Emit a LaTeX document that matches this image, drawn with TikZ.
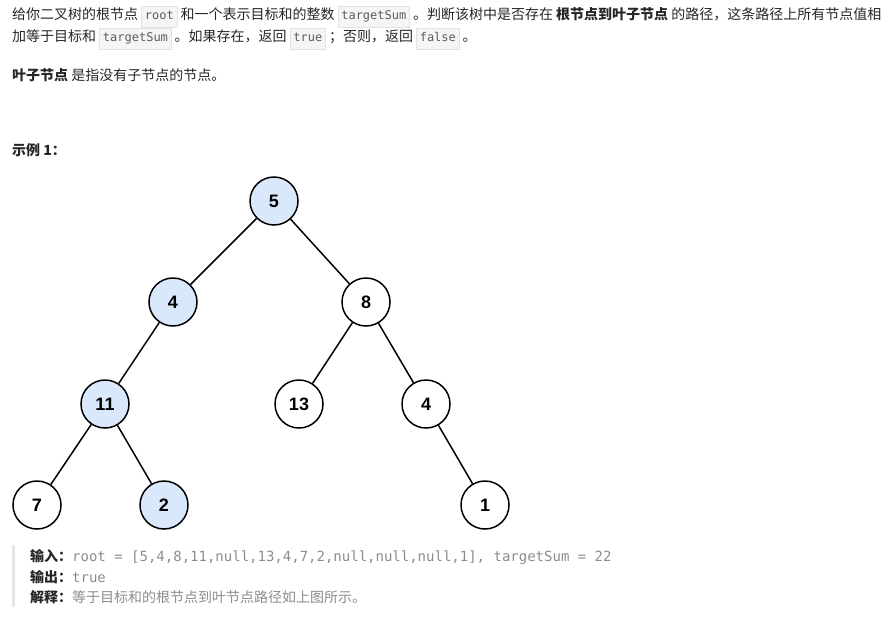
\documentclass[tikz,border=0pt]{standalone}
\usepackage{fontspec}
\setmainfont{Noto Sans CJK SC}
\setmonofont{DejaVu Sans Mono}
\newfontfamily\numfont{Liberation Sans}
\definecolor{txt}{HTML}{262626}
\definecolor{codetxt}{HTML}{5C5C5C}
\definecolor{codebg}{HTML}{F5F5F5}
\definecolor{codeline}{HTML}{E3E3E3}
\definecolor{pathblue}{HTML}{DAE8FC}
\definecolor{quotetxt}{HTML}{8C8C8C}
\definecolor{quotebar}{HTML}{E6E6E6}
\newcommand\code[1]{{\setlength\fboxsep{3pt}\setlength\fboxrule{0.6pt}\fcolorbox{codeline}{codebg}{\fontsize{12}{14}\selectfont\ttfamily\color{codetxt}\strut#1}}}
\tikzset{
  para/.style={anchor=west, inner sep=0pt, text=txt, font=\fontsize{14}{20}\selectfont},
  tnode/.style={circle, draw, line width=1.5pt, minimum size=48pt, inner sep=0pt, fill=white,
    font=\numfont\bfseries\fontsize{18}{20}\selectfont},
  onpath/.style={tnode, fill=pathblue},
  edge/.style={line width=1.5pt}
}
\begin{document}
\begin{tikzpicture}[x=1pt, y=-1pt]
	\useasboundingbox (0,0) rectangle (891,616);
	% problem statement
	\node[para] (line1) at (12,17) {给你二叉树的根节点 \code{root} 和一个表示目标和的整数 \code{targetSum} 。判断该树中是否存在 \textbf{根节点到叶子节点} 的路径，这条路径上所有节点值相};
	\node[para] (line2) at (12,39) {加等于目标和 \code{targetSum} 。如果存在，返回 \code{true} ；否则，返回 \code{false} 。};
	\node[para] (leaf) at (12,75) {\textbf{叶子节点} 是指没有子节点的节点。};
	\node[para] (ex) at (12,150) {\textbf{示例 1：}};

	% tree
	\foreach \name/\val/\x/\y/\sty in {root/5/274/201/onpath, l/4/173/302/onpath, r/8/366/302/tnode,
		ll/11/105/404/onpath, rl/13/299/404/tnode, rr/4/426/404/tnode,
		lll/7/37/505/tnode, llr/2/164/505/onpath, rrr/1/485/505/tnode}{
		\node[\sty] (\name) at (\x,\y) {\val};
	};
	\foreach \a/\b in {root/l, root/r, l/ll, ll/lll, ll/llr, r/rl, r/rr, rr/rrr}{
		\draw[edge] (\a) -- (\b);
	};

	% example output
	\fill[quotebar] (11.5,545) rectangle (14.5,607);
	\node[para] (in) at (30,557) {\textbf{输入：}{\fontsize{14}{20}\selectfont\ttfamily\color{quotetxt}root = [5,4,8,11,null,13,4,7,2,null,null,null,1], targetSum = 22}};
	\node[para] (out) at (30,577) {\textbf{输出：}{\ttfamily\color{quotetxt}true}};
	\node[para] (why) at (30,597) {\textbf{解释：}{\color{quotetxt}等于目标和的根节点到叶节点路径如上图所示。}};
\end{tikzpicture}
\end{document}
